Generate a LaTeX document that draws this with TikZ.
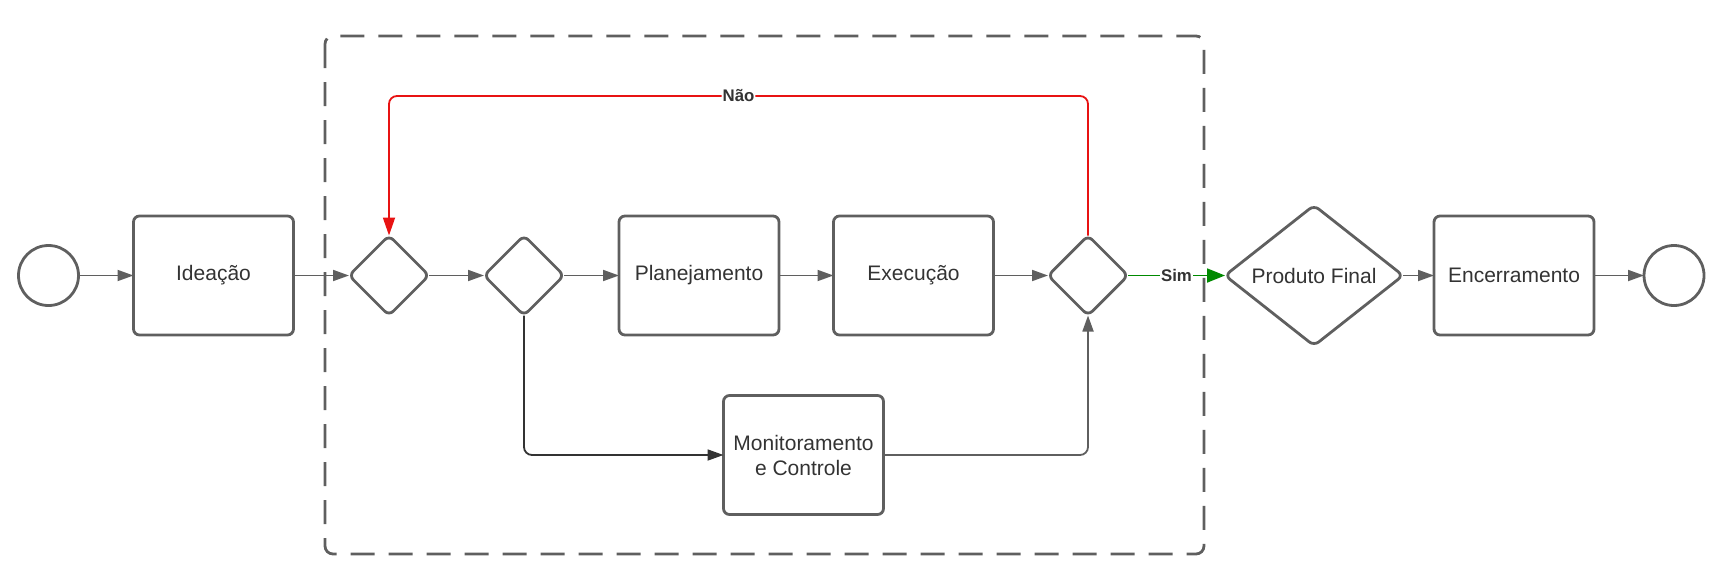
\documentclass[tikz,border=0pt]{standalone}
\usepackage{fontspec}
\setmainfont{Liberation Sans}
\usetikzlibrary{arrows.meta,shapes.geometric}
\definecolor{linegray}{HTML}{5F5F5F}
\definecolor{textgray}{HTML}{333333}
\definecolor{loopred}{HTML}{E81313}
\definecolor{simgreen}{HTML}{008A00}

\begin{document}
\begin{tikzpicture}[x=0.5pt, y=-0.5pt,
  task/.style={draw=linegray, line width=1.4pt, rounded corners=3pt, minimum width=80pt, minimum height=59.5pt, inner sep=1pt, outer sep=0pt, align=center, text=textgray, font=\fontsize{10.5}{12.5}\selectfont},
  gate/.style={draw=linegray, line width=1.4pt, diamond, rounded corners=3pt, minimum width=40pt, minimum height=40pt, inner sep=0pt, outer sep=0pt},
  event/.style={draw=linegray, line width=1.4pt, circle, minimum size=30pt, inner sep=0pt, outer sep=0pt},
  flow/.style={draw=linegray, line width=0.9pt, -{Triangle[length=8pt, width=5.5pt]}},
  lbl/.style={fill=white, inner sep=0.5pt, text=textgray, font=\fontsize{8.4}{10}\selectfont\bfseries}]
\useasboundingbox (0,0) rectangle (1727,584);
% frame
\draw [linegray, line width=1.4pt, dash pattern=on 12pt off 7pt, rounded corners=4pt] (325,36) rectangle (1204,554);
% nodes
\node [event] (start) at (48.5,275.5) {};
\node [task] (idea) at (213.5,275.5) {Ideação};
\node [gate] (g1) at (389,275.5) {};
\node [gate] (g2) at (524,275.5) {};
\node [task] (plan) at (699,275.5) {Planejamento};
\node [task] (exec) at (913.5,275.5) {Execução};
\node [gate] (g3) at (1088,275.5) {};
\node [gate, minimum width=89pt, minimum height=68.5pt, text=textgray, font=\fontsize{10.5}{12.5}\selectfont] (prod) at (1314,275.5) {Produto Final};
\node [task] (close) at (1514,275.5) {Encerramento};
\node [event] (stop) at (1674,275.5) {};
\node [task] (mon) at (803.5,455) {Monitoramento\\e Controle};
\coordinate (loopR) at (1088,96);
\coordinate (loopL) at (389,96);
% connectors
\draw [flow] (start) -- (idea);
\draw [flow] (idea) -- (g1);
\draw [flow] (g1) -- (g2);
\draw [flow] (g2) -- (plan);
\draw [flow] (plan) -- (exec);
\draw [flow] (exec) -- (g3);
\draw [flow, draw=simgreen, -{Triangle[length=9pt, width=7pt]}, simgreen] (g3) -- node [lbl] {Sim} (prod);
\draw [flow] (prod) -- (close);
\draw [flow] (close) -- (stop);
\draw [flow, draw=loopred, loopred, rounded corners=4pt, -{Triangle[length=9pt, width=6pt]}] (g3.north) -- (loopR) -- node [lbl] {Não} (loopL) -- (g1.north);
\draw [flow, draw=textgray, textgray, rounded corners=4pt] (g2.south) |- (mon.west);
\draw [flow, rounded corners=4pt] (mon.east) -| (g3.south);
\end{tikzpicture}
\end{document}
